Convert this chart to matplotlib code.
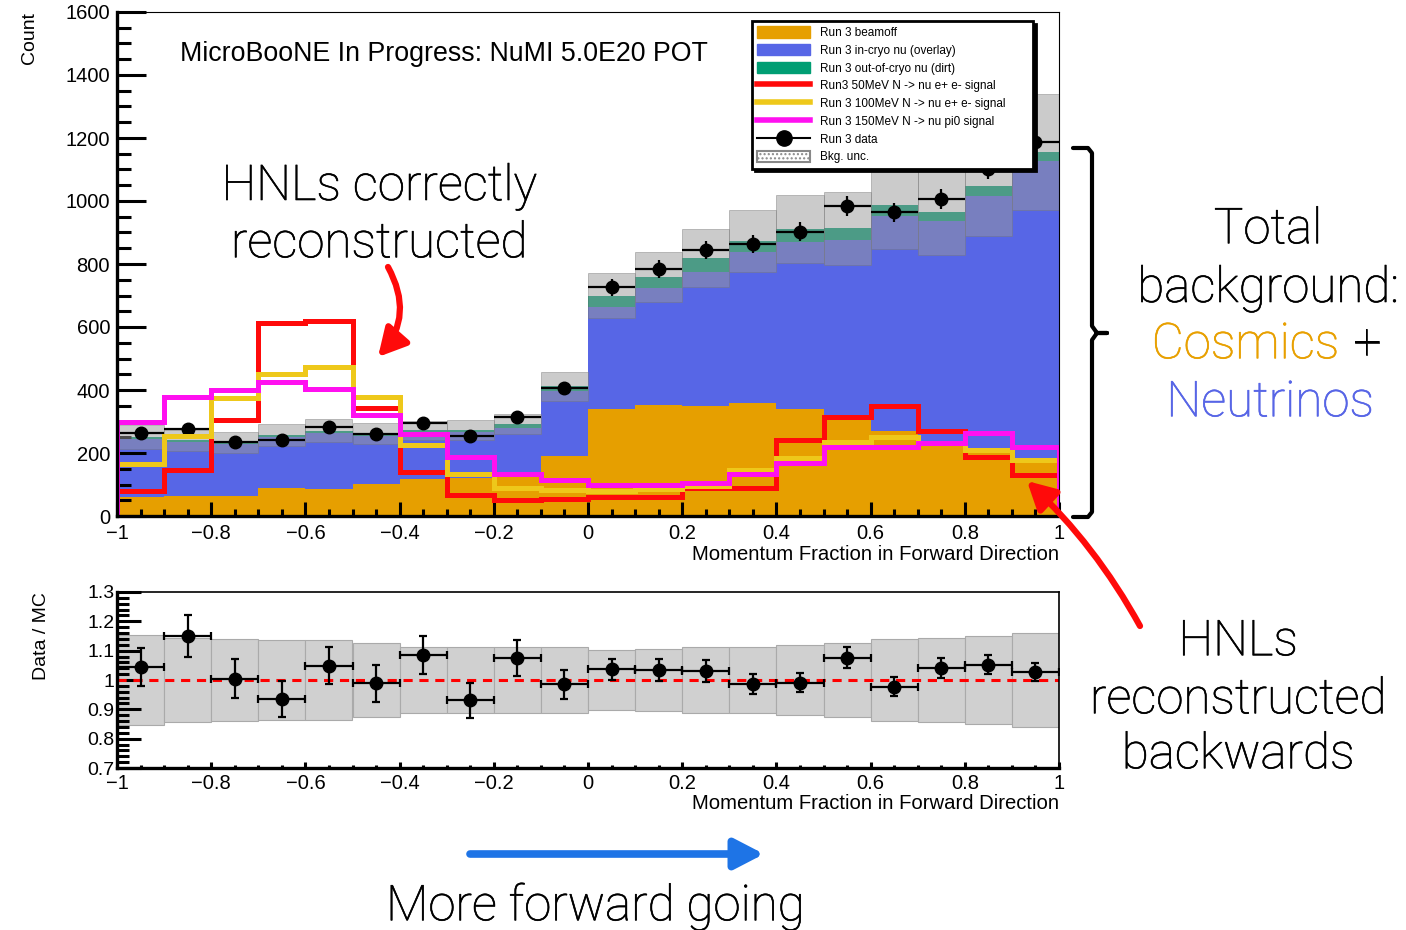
import numpy as np
import matplotlib
matplotlib.use("Agg")
import matplotlib.pyplot as plt
import matplotlib.patheffects as pe
from matplotlib.patches import Patch, FancyArrowPatch
from matplotlib.lines import Line2D
from matplotlib.ticker import MultipleLocator, FuncFormatter

# ---------------- data ----------------
bin_edges = [-1.0, -0.9, -0.8, -0.7, -0.6, -0.5, -0.4, -0.3, -0.2, -0.1, 0.0,
             0.1, 0.2, 0.3, 0.4, 0.5, 0.6, 0.7, 0.8, 0.9, 1.0]
beamoff = [61, 63, 63, 88, 86, 101, 117, 121, 125, 190,
           340, 352, 349, 358, 340, 307, 271, 224, 212, 169]
overlay = [182, 171, 165, 163, 179, 154, 147, 147, 153, 207,
           323, 372, 426, 479, 531, 568, 681, 711, 803, 959]
dirt = [9, 6, 6, 7, 5, 8, 8, 5, 14, 15,
        37, 34, 43, 37, 39, 39, 34, 31, 33, 27]
bkg_unc_rel = [0.152, 0.144, 0.141, 0.137, 0.135, 0.127, 0.113, 0.114, 0.111, 0.111,
               0.101, 0.105, 0.113, 0.113, 0.119, 0.127, 0.139, 0.143, 0.151, 0.160]
data = [263, 276, 235, 241, 283, 260, 295, 254, 314, 406,
        726, 784, 844, 863, 902, 984, 964, 1006, 1102, 1188]
data_err = [16, 17, 15, 16, 17, 16, 17, 16, 18, 20,
            27, 28, 29, 29, 30, 31, 31, 32, 33, 34]
ratio_err = [0.065, 0.070, 0.067, 0.061, 0.063, 0.063, 0.064, 0.059, 0.061, 0.050,
             0.036, 0.037, 0.037, 0.034, 0.033, 0.035, 0.033, 0.034, 0.032, 0.031]
sig_50 = [80, 146, 305, 614, 620, 342, 141, 67, 51, 54,
          60, 60, 88, 88, 241, 314, 349, 270, 188, 130]
sig_100 = [165, 254, 374, 451, 474, 377, 225, 133, 88, 84,
           78, 86, 95, 146, 183, 236, 250, 233, 210, 178]
sig_150 = [299, 379, 400, 426, 402, 321, 260, 188, 133, 114,
           98, 98, 106, 134, 168, 220, 220, 231, 265, 220]

legend_labels = ["Run 3 beamoff", "Run 3 in-cryo nu (overlay)", "Run 3 out-of-cryo nu (dirt)",
                 "Run3 50MeV N -> nu e+ e- signal", "Run 3 100MeV N -> nu e+ e- signal",
                 "Run 3 150MeV N -> nu pi0 signal", "Run 3 data", "Bkg. unc."]

# ---------------- styling ----------------
plt.rcParams["font.family"] = ["Liberation Sans", "DejaVu Sans"]
C_BEAM = "#E69F00"
C_OVER = "#5766E6"
C_DIRT = "#009E73"
C_50 = "#FF0A0A"
C_100 = "#EEC81A"
C_150 = "#FF10F0"
ANN_FONT = ["Roboto", "DejaVu Sans"]
ANN_SIZE = 35.5

W, H = 1406, 930
fig = plt.figure(figsize=(W / 100, H / 100), dpi=100)


def fx(px):
    return px / W


def fy(py):
    return 1 - py / H


edges = np.array(bin_edges)
centers = 0.5 * (edges[:-1] + edges[1:])
width = edges[1] - edges[0]
beamoff = np.array(beamoff, float)
overlay = np.array(overlay, float)
dirt = np.array(dirt, float)
mc = beamoff + overlay + dirt
unc = mc * np.array(bkg_unc_rel)
data = np.array(data, float)

# ---------------- upper pad ----------------
ax = fig.add_axes([fx(117), fy(516), fx(1059) - fx(117), fy(12) - fy(516)])
ax.stairs(beamoff, edges, baseline=0, fill=True, color=C_BEAM, lw=0, zorder=1)
ax.stairs(beamoff + overlay, edges, baseline=beamoff, fill=True, color=C_OVER, lw=0, zorder=1)
ax.stairs(mc, edges, baseline=beamoff + overlay, fill=True, color=C_DIRT, lw=0, zorder=1)
ax.bar(centers, 2 * unc, bottom=mc - unc, width=width, color="#999999", alpha=0.5,
       edgecolor="#777777", linewidth=0.6, zorder=2)
ax.errorbar(centers, data, yerr=data_err, xerr=width / 2, fmt="o", color="k",
            ms=9, lw=1.6, capsize=0, zorder=3)
ax.stairs(sig_50, edges, color=C_50, lw=3.6, zorder=4)
ax.stairs(sig_100, edges, color=C_100, lw=3.6, zorder=4)
ax.stairs(sig_150, edges, color=C_150, lw=3.6, zorder=4)

ax.set_xlim(-1, 1)
ax.set_ylim(0, 1600)
for s in ["left", "bottom"]:
    ax.spines[s].set_linewidth(2.4)
for s in ["top", "right"]:
    ax.spines[s].set_linewidth(0.8)
for s in ax.spines.values():
    s.set_zorder(6)
ax.yaxis.set_major_locator(MultipleLocator(200))
ax.yaxis.set_minor_locator(MultipleLocator(50))
ax.xaxis.set_major_locator(MultipleLocator(0.2))
ax.xaxis.set_minor_locator(MultipleLocator(0.05))
ax.tick_params(axis="y", which="major", direction="in", length=21, width=2.2, labelsize=14.5, pad=5)
ax.tick_params(axis="y", which="minor", direction="in", length=10, width=2.2)
ax.tick_params(axis="x", which="major", direction="in", length=10, width=2.2, labelsize=14.5, pad=6)
ax.tick_params(axis="x", which="minor", direction="in", length=5, width=2.2)

fmt = FuncFormatter(lambda v, p: ("%g" % round(v, 2)).replace("-", "\u2212"))
ax.xaxis.set_major_formatter(fmt)
ax.set_ylabel("Count", fontsize=14, loc="top", labelpad=20)
ax.set_xlabel("Momentum Fraction in Forward Direction", fontsize=14.6, loc="right", labelpad=1.5)
ax.text((180 - 117) / 942, (516 - 54) / 504, "MicroBooNE In Progress: NuMI 5.0E20 POT",
        transform=ax.transAxes, fontsize=19.3, ha="left", va="center")

handles = [Patch(facecolor=C_BEAM, edgecolor=C_BEAM),
           Patch(facecolor=C_OVER, edgecolor=C_OVER),
           Patch(facecolor=C_DIRT, edgecolor=C_DIRT),
           Line2D([], [], color=C_50, lw=4),
           Line2D([], [], color=C_100, lw=4),
           Line2D([], [], color=C_150, lw=4),
           Line2D([], [], color="k", lw=1.5, marker="o", ms=11),
           Patch(facecolor="white", edgecolor="#888888", hatch="....", lw=1.5)]
leg_top = (516 - 21) / 504
leg = ax.legend(handles, legend_labels, loc="upper left",
                bbox_to_anchor=((752 - 117) / 942, leg_top - 0.001, (1033 - 752) / 942, 0.001),
                mode="expand", fontsize=8.5, frameon=True, fancybox=False, handlelength=4.5,
                handleheight=1.1, labelspacing=0.43, borderpad=0.45, handletextpad=0.85,
                borderaxespad=0, shadow={"color": "black", "alpha": 1.0})
leg.get_frame().set_edgecolor("black")
leg.get_frame().set_linewidth(2.0)
leg.set_zorder(10)

# ---------------- ratio pad ----------------
rax = fig.add_axes([fx(117), fy(768), fx(1059) - fx(117), fy(592) - fy(768)])
rel = np.array(bkg_unc_rel)
rax.bar(centers, 2 * rel, bottom=1 - rel, width=width, color="#d0d0d0",
        edgecolor="#aaaaaa", linewidth=0.8, zorder=1)
rax.axhline(1.0, color="red", ls=(0, (3, 2.2)), lw=2.2, zorder=2)
rax.errorbar(centers, data / mc, yerr=ratio_err, xerr=width / 2, fmt="o", color="k",
             ms=9, lw=1.6, capsize=3, capthick=1.6, zorder=3)
rax.set_xlim(-1, 1)
rax.set_ylim(0.7, 1.3)
for s in ["left", "bottom"]:
    rax.spines[s].set_linewidth(2.4)
for s in ["top", "right"]:
    rax.spines[s].set_linewidth(1.2)
rax.yaxis.set_major_locator(MultipleLocator(0.1))
rax.yaxis.set_minor_locator(MultipleLocator(0.02))
rax.xaxis.set_major_locator(MultipleLocator(0.2))
rax.xaxis.set_minor_locator(MultipleLocator(0.05))
rax.tick_params(axis="y", which="major", direction="in", length=17, width=2.2, labelsize=14, pad=2)
rax.tick_params(axis="y", which="minor", direction="in", length=8.5, width=2.2)
rax.tick_params(axis="x", which="major", direction="in", length=4.5, width=2.2, labelsize=14.5, pad=4)
rax.tick_params(axis="x", which="minor", direction="in", length=2.2, width=2.2)
rax.xaxis.set_major_formatter(fmt)
rax.yaxis.set_major_formatter(FuncFormatter(lambda v, p: "%g" % round(v, 2)))
rax.set_ylabel("Data / MC", fontsize=14, loc="top", labelpad=27)
rax.set_xlabel("Momentum Fraction in Forward Direction", fontsize=14.6, loc="right", labelpad=1)

# ---------------- annotations ----------------
def ftext(px, py, s, color="black", ha="center"):
    fig.text(fx(px), fy(py), s, fontsize=ANN_SIZE, color=color, ha=ha, va="center",
             family=ANN_FONT, weight="light",
             path_effects=[pe.withStroke(linewidth=0.45, foreground=color)])

ftext(379, 187, "HNLs correctly")
ftext(379, 244, "reconstructed")
ftext(1268, 230, "Total")
ftext(1268, 289, "background:")
ftext(1339, 345, "Cosmics", color="#E8A000", ha="right")
ftext(1353, 345, "+", ha="left")
ftext(1270, 403, "Neutrinos", color="#5765E6")
ftext(1238, 642, "HNLs")
ftext(1238, 700, "reconstructed")
ftext(1238, 755, "backwards")
ftext(595, 907, "More forward going")

# curly brace
bx = [1073, 1088, 1092, 1092, 1097, 1107, 1097, 1092, 1092, 1088, 1073]
by = [148, 148, 153, 326, 333, 333, 333, 340, 512, 517, 517]
fig.add_artist(Line2D([fx(v) for v in bx], [fy(v) for v in by], color="black", lw=3,
                      solid_capstyle="round", solid_joinstyle="round"))

# arrows
a1 = FancyArrowPatch((fx(388), fy(267)), (fx(378), fy(357)), transform=fig.transFigure,
                     connectionstyle="arc3,rad=-0.35", arrowstyle="-|>,head_length=1.4,head_width=0.75",
                     mutation_scale=12, color="#FF0A0A", lw=4.5, shrinkA=0, shrinkB=0)
fig.add_artist(a1)
a2 = FancyArrowPatch((fx(1140), fy(626)), (fx(1027), fy(481)), transform=fig.transFigure,
                     connectionstyle="arc3,rad=0.08", arrowstyle="-|>,head_length=1.4,head_width=0.75",
                     mutation_scale=12, color="#FF0A0A", lw=4.5, shrinkA=0, shrinkB=0)
fig.add_artist(a2)
a3 = FancyArrowPatch((fx(470), fy(854)), (fx(764), fy(854)), transform=fig.transFigure,
                     arrowstyle="-|>,head_length=1.35,head_width=0.7",
                     mutation_scale=13, color="#1E74E6", lw=5.5, shrinkA=0, shrinkB=0)
fig.add_artist(a3)

fig.savefig("out.png", dpi=100)
